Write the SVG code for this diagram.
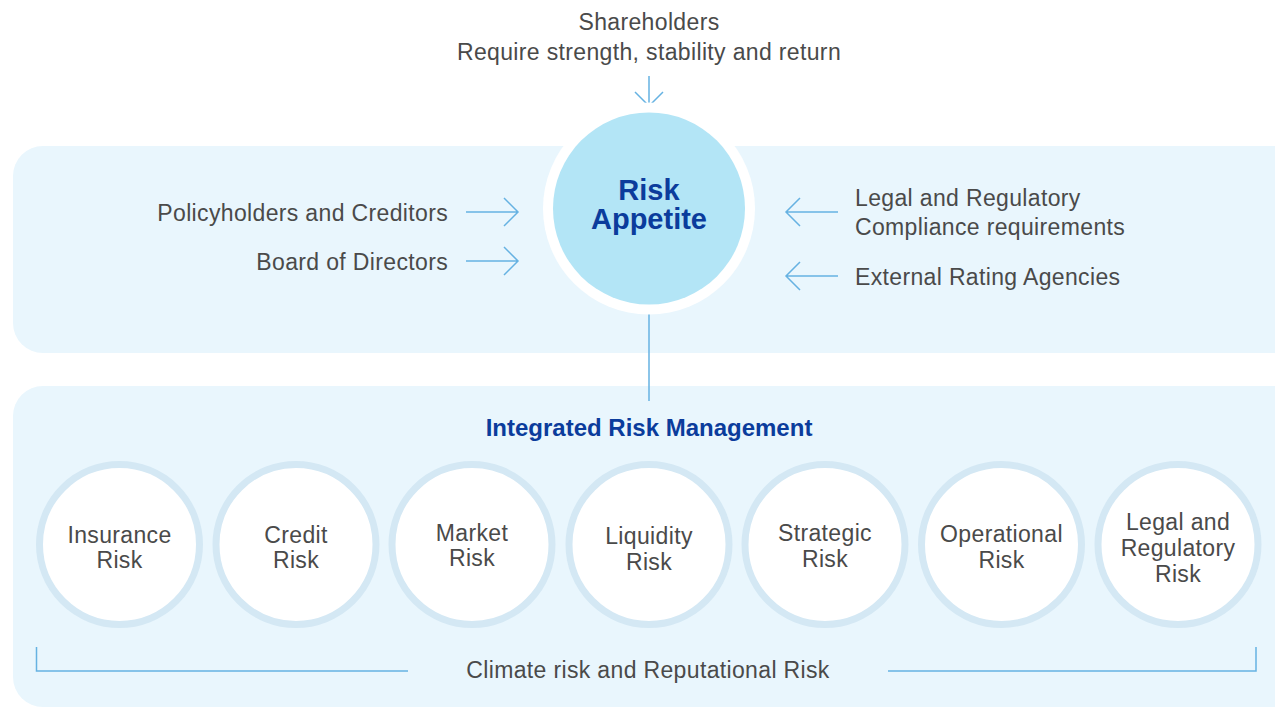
<svg xmlns="http://www.w3.org/2000/svg" width="1275" height="708" viewBox="0 0 1275 708">
  <style>
    .panel { fill: #e9f6fd; }
    .lbl { font-family: "Liberation Sans", Arial, sans-serif; font-size: 23px; letter-spacing: 0.35px; fill: #4a4a4a; }
    .mid { text-anchor: middle; }
    .end { text-anchor: end; }
    .title { font-family: "Liberation Sans", Arial, sans-serif; font-weight: bold; fill: #0b3c9c; text-anchor: middle; }
    .conn { stroke: #66b2e2; stroke-width: 1.5; fill: none; }
    .risk { fill: #ffffff; stroke: #d4e8f4; stroke-width: 7; }
  </style>

  <!-- background panels -->
  <rect class="panel" x="13" y="146" width="1290" height="207" rx="30"/>
  <rect class="panel" x="13" y="386" width="1290" height="321" rx="30"/>

  <!-- connectors -->
  <g id="connectors">
    <path class="conn" d="M649 76 V106 M635 92 L649 106 L663 92"/>
    <path class="conn" d="M466 212 H518 M504 198 L518 212 L504 226"/>
    <path class="conn" d="M466 261 H518 M504 247 L518 261 L504 275"/>
    <path class="conn" d="M838 212 H786 M800 198 L786 212 L800 226"/>
    <path class="conn" d="M838 276 H786 M800 262 L786 276 L800 290"/>
    <path class="conn" d="M649 304 V401"/>
    <path class="conn" d="M36.5 647 V671 H408 M888 671 H1256 V647"/>
  </g>

  <!-- stakeholders -->
  <g id="shareholders">
    <text class="lbl mid" x="649" y="30">Shareholders</text>
    <text class="lbl mid" x="649" y="60">Require strength, stability and return</text>
  </g>
  <g id="policyholders"><text class="lbl end" x="448" y="221">Policyholders and Creditors</text></g>
  <g id="board"><text class="lbl end" x="448" y="270">Board of Directors</text></g>
  <g id="legal-compliance">
    <text class="lbl" x="855" y="206">Legal and Regulatory</text>
    <text class="lbl" x="855" y="235">Compliance requirements</text>
  </g>
  <g id="rating-agencies"><text class="lbl" x="855" y="285">External Rating Agencies</text></g>

  <!-- central node -->
  <g id="risk-appetite">
    <circle cx="649" cy="208.5" r="106" fill="#ffffff"/>
    <circle cx="649" cy="208.5" r="96" fill="#b3e5f6"/>
    <text class="title" x="649" y="200" font-size="29">Risk</text>
    <text class="title" x="649" y="229" font-size="29">Appetite</text>
  </g>

  <g id="irm"><text class="title" x="649" y="436" font-size="24">Integrated Risk Management</text></g>

  <!-- risk categories -->
  <g id="insurance-risk">
    <circle class="risk" cx="119.5" cy="544.5" r="80"/>
    <text class="lbl mid" x="119.5" y="543">Insurance</text>
    <text class="lbl mid" x="119.5" y="568">Risk</text>
  </g>
  <g id="credit-risk">
    <circle class="risk" cx="296" cy="544.5" r="80"/>
    <text class="lbl mid" x="296" y="543">Credit</text>
    <text class="lbl mid" x="296" y="568">Risk</text>
  </g>
  <g id="market-risk">
    <circle class="risk" cx="472" cy="544.5" r="80"/>
    <text class="lbl mid" x="472" y="541">Market</text>
    <text class="lbl mid" x="472" y="566">Risk</text>
  </g>
  <g id="liquidity-risk">
    <circle class="risk" cx="649" cy="544.5" r="80"/>
    <text class="lbl mid" x="649" y="544">Liquidity</text>
    <text class="lbl mid" x="649" y="570">Risk</text>
  </g>
  <g id="strategic-risk">
    <circle class="risk" cx="825" cy="544.5" r="80"/>
    <text class="lbl mid" x="825" y="541">Strategic</text>
    <text class="lbl mid" x="825" y="567">Risk</text>
  </g>
  <g id="operational-risk">
    <circle class="risk" cx="1001.5" cy="544.5" r="80"/>
    <text class="lbl mid" x="1001.5" y="542">Operational</text>
    <text class="lbl mid" x="1001.5" y="568">Risk</text>
  </g>
  <g id="legal-risk">
    <circle class="risk" cx="1178" cy="544.5" r="80"/>
    <text class="lbl mid" x="1178" y="530">Legal and</text>
    <text class="lbl mid" x="1178" y="556">Regulatory</text>
    <text class="lbl mid" x="1178" y="582">Risk</text>
  </g>

  <g id="climate"><text class="lbl mid" x="648" y="678">Climate risk and Reputational Risk</text></g>
</svg>
